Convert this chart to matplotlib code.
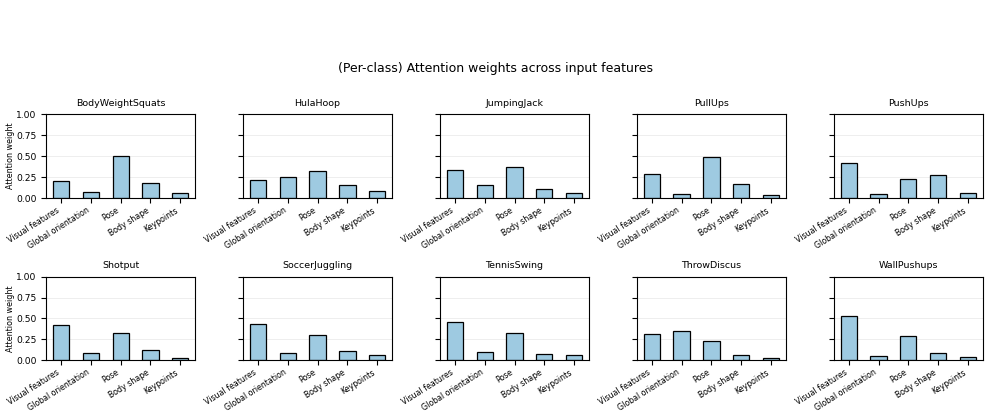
import matplotlib
matplotlib.use("Agg")
import matplotlib.pyplot as plt
import numpy as np


features = ["Visual features", "Global orientation", "Pose", "Body shape", "Keypoints"]

classes = ["BodyWeightSquats", "HulaHoop", "JumpingJack", "PullUps", "PushUps",
           "Shotput", "SoccerJuggling", "TennisSwing", "ThrowDiscus", "WallPushups"]

body_weight_squats = [0.20, 0.07, 0.50, 0.175, 0.056]
hula_hoop = [0.214, 0.25, 0.317, 0.155, 0.079]
jumping_jack = [0.333, 0.155, 0.373, 0.103, 0.06]
pull_ups = [0.282, 0.048, 0.484, 0.163, 0.032]
push_ups = [0.413, 0.044, 0.222, 0.274, 0.056]
shotput = [0.424, 0.092, 0.328, 0.128, 0.024]
soccer_juggling = [0.432, 0.092, 0.304, 0.108, 0.064]
tennis_swing = [0.46, 0.096, 0.324, 0.072, 0.064]
throw_discus = [0.316, 0.348, 0.232, 0.068, 0.032]
wall_pushups = [0.532, 0.056, 0.296, 0.092, 0.036]

weights = [body_weight_squats, hula_hoop, jumping_jack, pull_ups, push_ups,
           shotput, soccer_juggling, tennis_swing, throw_discus, wall_pushups]


fig, axes = plt.subplots(2, 5, figsize=(9.9, 4.2), dpi=100, sharey=True)
fig.subplots_adjust(left=0.0468, right=0.9926, top=0.728, bottom=0.142,
                    wspace=0.323, hspace=0.937)

x = np.arange(len(features))
for i, ax in enumerate(axes.flat):
    ax.bar(x, weights[i], width=0.55, color="#9ecae1", edgecolor="black", linewidth=0.9)
    ax.set_title(classes[i], fontsize=6.8)
    ax.set_ylim(0, 1)
    ax.set_yticks([0, 0.25, 0.5, 0.75, 1.0])
    ax.set_xticks(x)
    ax.set_xticklabels(features, rotation=32, ha="right", fontsize=5.7)
    ax.tick_params(axis="y", labelsize=6.6)
    ax.tick_params(axis="x", pad=2)
    ax.grid(axis="y", alpha=0.25, linewidth=0.6)
    ax.set_axisbelow(True)
    if i % 5 == 0:
        ax.set_ylabel("Attention weight", fontsize=5.8, labelpad=0.5)

fig.suptitle("(Per-class) Attention weights across input features", fontsize=9, y=0.852)

plt.savefig("out.png")
